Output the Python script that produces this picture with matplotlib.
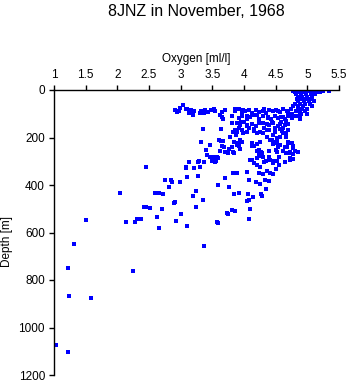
import matplotlib
matplotlib.use("Agg")
import matplotlib.pyplot as plt

# surface layer (0-100 m)
oxy_surface = [4.77, 4.84, 4.89, 4.93, 4.96, 5.00, 5.03, 5.08, 5.13, 5.18, 5.24, 5.34,
               4.80, 4.88, 4.95, 5.05, 5.10, 5.15, 5.20,
               4.82, 4.90, 4.98, 5.06, 5.12,
               4.85, 4.92, 5.00, 5.08,
               4.83, 4.90, 4.97, 5.05,
               4.86, 4.94, 5.02, 5.10,
               4.80, 4.88, 4.96, 5.04,
               4.78, 4.86, 4.93, 5.08,
               4.74, 4.85, 4.92, 5.00,
               4.70, 4.82, 4.88, 4.97,
               4.76, 4.90]
dep_surface = [3, 3, 3, 3, 3, 3, 3, 3, 3, 3, 3, 3,
               10, 10, 10, 10, 10, 10, 10,
               18, 18, 18, 18, 18,
               28, 28, 28, 28,
               38, 38, 38, 38,
               48, 48, 48, 48,
               58, 58, 58, 58,
               68, 68, 68, 68,
               78, 78, 78, 78,
               88, 88, 88, 88,
               100, 100]

# band around 100 m
oxy_band = [2.91, 2.94, 2.97, 3.08, 3.13, 3.16, 3.21, 3.32, 3.37, 3.43, 3.48, 3.54, 3.65, 3.70,
            3.86, 3.92, 3.97, 4.02, 4.08, 4.13, 4.19, 4.24, 4.30, 4.35, 4.40, 4.46, 4.51, 4.57,
            4.62, 4.68, 3.03, 2.94, 2.99, 3.10, 3.15, 3.19, 3.31, 3.39, 3.52, 3.62, 3.65,
            3.86, 3.99, 4.31, 4.53]
dep_band = [84, 92, 88, 80, 95, 86, 90, 88, 96, 92, 85, 90, 94, 86,
            88, 82, 95, 90, 86, 97, 84, 92, 88, 95, 83, 90, 86, 94,
            82, 90, 63, 91, 77, 81, 91, 105, 98, 84, 81, 105, 115,
            80, 86, 82, 88]

# 100-200 m
oxy_upper = [3.65, 3.67, 3.81, 3.92, 3.97, 4.05, 4.10, 4.16, 4.24, 4.30, 4.38, 4.43, 4.49,
             4.54, 4.59, 4.65, 4.70, 4.76, 4.86, 4.89,
             3.89, 3.94, 4.00, 4.05, 4.13, 4.19, 4.30, 4.40, 4.46, 4.54, 4.59, 4.65, 4.70,
             3.36, 3.64, 3.86, 3.92, 3.97, 4.08, 4.16, 4.32, 4.40, 4.49, 4.57, 4.62, 4.70,
             3.83, 4.04, 4.20, 4.30, 4.36, 4.41, 4.46, 4.52, 4.57, 4.62, 4.67, 4.70, 4.68,
             3.78, 3.88, 4.20, 4.46,
             4.04, 4.20, 4.38, 4.49, 4.62, 4.70, 4.81, 4.88, 4.99,
             3.81, 3.96, 4.04, 4.23, 4.36, 4.44, 4.57, 4.67,
             3.89, 3.99, 4.15, 4.25, 4.36, 4.49, 4.60, 4.67]
dep_upper = [112, 120, 108, 118, 110, 124, 114, 106, 120, 110, 116, 124, 108,
             118, 112, 122, 110, 116, 108, 120,
             140, 148, 136, 152, 142, 150, 138, 146, 140, 152, 136, 148, 142,
             164, 164, 170, 160, 168, 162, 166, 160, 168, 162, 166, 160, 170,
             175, 175, 182, 182, 196, 210, 189, 203, 196, 182, 199, 219, 239,
             196, 189, 227, 227,
             110, 106, 114, 108, 112, 104, 110, 106, 100,
             140, 134, 146, 138, 144, 136, 142, 132,
             175, 180, 172, 178, 170, 176, 172, 180]

# 200-450 m
oxy_mid = [3.32, 3.47, 3.65, 3.67, 3.81, 3.84, 3.89, 3.92, 3.94, 3.97, 4.16, 4.24, 4.27, 4.23,
           4.30, 4.40, 4.46, 4.51, 4.54, 4.57, 4.51, 4.65, 4.76, 4.78, 4.85, 4.67, 4.56, 4.78,
           4.77, 3.40, 3.41, 3.51, 3.54, 3.59, 3.70, 3.75, 3.84, 3.29, 3.31, 3.21, 3.09, 3.10,
           3.28, 2.99, 2.86, 3.24, 3.70, 3.59, 3.76, 3.89, 4.08, 4.19, 4.25, 4.39, 4.35, 3.84,
           3.92, 4.07, 4.29, 4.13, 4.20, 4.25, 4.35, 4.45, 4.46, 4.56, 4.65, 4.51, 4.46, 4.24,
           4.36, 3.61, 3.63, 3.68, 3.77, 3.83, 3.89, 3.94, 4.12, 4.15, 4.21, 4.23, 4.25, 4.33,
           3.13, 3.28, 3.08, 3.37, 3.46, 3.49, 3.58, 4.72, 4.73, 4.78,
           3.94, 4.12, 4.44, 4.52, 4.70,
           3.62, 3.73, 4.20, 4.28, 4.39, 4.52, 4.62, 4.73, 4.80,
           3.56, 4.10, 4.31, 4.41, 4.52, 4.72,
           3.83, 4.04, 4.30, 4.41]
dep_mid = [218, 232, 236, 215, 239, 218, 222, 236, 247, 218, 236, 251, 261, 276,
           280, 280, 218, 225, 242, 232, 254, 239, 222, 236, 261, 265, 280, 268,
           290, 254, 274, 280, 304, 286, 261, 265, 265, 300, 323, 329, 329, 367,
           361, 387, 387, 424, 369, 398, 410, 351, 377, 387, 394, 384, 416, 437,
           434, 437, 445, 294, 315, 323, 297, 300, 309, 315, 302, 333, 355, 351,
           341, 210, 213, 239, 250, 260, 232, 218, 236, 306, 288, 267, 218, 379,
           303, 303, 326, 305, 281, 299, 281, 260, 288, 246,
           212, 224, 210, 216, 222,
           258, 262, 256, 264, 258, 262, 256, 264, 258,
           298, 294, 302, 296, 300, 296,
           351, 347, 355, 349]

# 300-700 m, sparse
oxy_deep = [2.46, 2.04, 1.51, 1.31, 2.14, 2.31, 2.35, 2.37, 2.28, 2.42, 2.45, 2.52, 2.60,
            2.66, 2.72, 2.62, 2.65, 2.76, 2.84, 2.82, 2.71, 2.91,
            2.90, 3.19, 3.36, 3.24, 3.01, 2.92, 3.10, 3.59, 3.75, 3.85, 4.08, 4.14, 4.27,
            4.09, 4.08, 3.37, 3.57, 3.73, 3.81, 4.04]
dep_deep = [326, 435, 547, 650, 554, 545, 545, 545, 554, 491, 491, 498, 435,
            435, 439, 533, 582, 379, 379, 407, 502, 473,
            474, 448, 462, 491, 522, 552, 571, 561, 522, 510, 464, 449, 438,
            500, 543, 655, 554, 519, 505, 466]

# below 700 m
oxy_abyss = [1.22, 2.25, 1.24, 1.59, 1.03, 1.22]
dep_abyss = [751, 761, 869, 877, 1074, 1105]

oxygen = oxy_surface + oxy_band + oxy_upper + oxy_mid + oxy_deep + oxy_abyss
depth = dep_surface + dep_band + dep_upper + dep_mid + dep_deep + dep_abyss

x_ticks = [1, 1.5, 2, 2.5, 3, 3.5, 4, 4.5, 5, 5.5]
x_labels = ["1", "1.5", "2", "2.5", "3", "3.5", "4", "4.5", "5", "5.5"]
y_ticks = [0, 200, 400, 600, 800, 1000, 1200]

plt.rcParams["font.family"] = ["Liberation Sans", "DejaVu Sans"]

fig = plt.figure(figsize=(3.5, 3.84), dpi=100)
ax = fig.add_axes([54 / 350, 9 / 384, 285 / 350, 285 / 384])

ax.scatter(oxygen, depth, s=6.5, marker="s", color="#0000ff", linewidths=0)

ax.set_xlim(1, 5.5)
ax.set_ylim(1200, 0)
ax.set_xticks(x_ticks)
ax.set_xticklabels(x_labels)
ax.set_yticks(y_ticks)

ax.xaxis.tick_top()
ax.xaxis.set_label_position("top")
ax.set_xlabel("Oxygen [ml/l]", fontsize=8.5, labelpad=5)
ax.set_ylabel("Depth [m]", fontsize=8.5)
ax.yaxis.set_label_coords(-0.143, 0.47)

for s in ["right", "bottom"]:
    ax.spines[s].set_visible(False)
for s in ["top", "left"]:
    ax.spines[s].set_linewidth(1.0)
ax.tick_params(labelsize=8.5, length=3.5, width=1.0, pad=3, direction="out")

fig.text(196.5 / 350, 1 - 11 / 384, "8JNZ in November, 1968", ha="center", va="center", fontsize=11.5)

fig.savefig("out.png", dpi=100)
